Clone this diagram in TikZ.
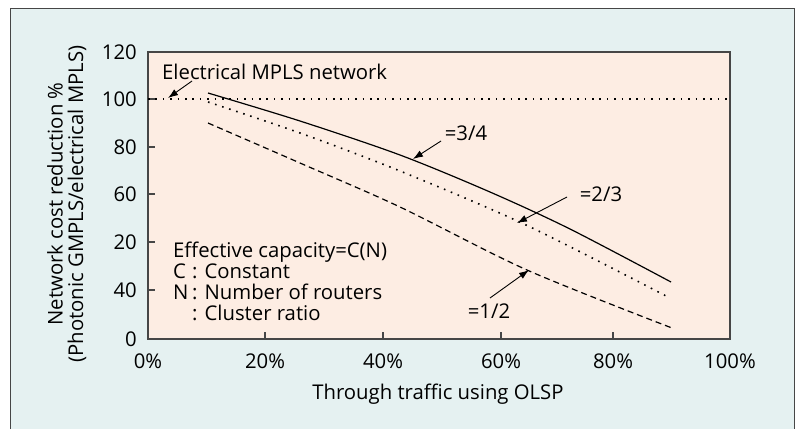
\documentclass[tikz,border=0pt]{standalone}
\usepackage{fontspec}
\setmainfont{Open Sans}
\usetikzlibrary{arrows.meta}
\definecolor{outerbg}{RGB}{229,241,241}
\definecolor{plotbg}{RGB}{253,237,227}
\definecolor{framec}{RGB}{70,70,70}
\begin{document}
\begin{tikzpicture}[x=1pt,y=-1pt,
  font=\fontsize{20.3}{24}\selectfont,
  lbl/.style={inner sep=0pt},
  tiparrow/.style={-{Latex[length=10pt,width=7pt]}, line width=0.9pt},
  curve/.style={line width=1.2pt},
  dotline/.style={line width=1.6pt, dash pattern=on 1.6pt off 5.8pt},
  dashline/.style={line width=1.2pt, dash pattern=on 6pt off 4pt},
  tick/.style={framec, line width=1.2pt}]
\useasboundingbox (0,0) rectangle (797,429);
\fill[white] (0,0) rectangle (797,429);
\fill[outerbg] (10,8) rectangle (794,429);
\draw[framec, line width=1pt] (10,429) -- (10,8) -- (794,8) -- (794,429);
\fill[plotbg] (148,52) rectangle (730,339);
\draw[framec, line width=1.5pt] (148,52) rectangle (730,339);
% y ticks and labels
\foreach \yy/\tx [count=\i] in {52/120,99/100,147/80,194/60,242/20,290/40,339/0}{
  \draw[tick] (148,\yy) -- (155,\yy);
  \node[lbl, anchor=east] (yl\i) at (137,\yy) {\tx};
}
% x ticks and labels
\foreach \xx/\tx [count=\i] in {148/0\%,265/20\%,383/40\%,501/60\%,613/80\%,730/100\%}{
  \draw[tick] (\xx,339) -- (\xx,332);
  \node[lbl] (xl\i) at (\xx,361) {\tx};
}
% axis titles
\node[lbl, rotate=90] (yt1) at (55,204) {Network cost reduction \%};
\node[lbl, rotate=90] (yt2) at (77,204) {(Photonic GMPLS/electrical MPLS)};
\node[lbl] (xt) at (438,394) {Through traffic using OLSP};
% reference line
\draw[dotline] (148,99) -- (728,99);
% curves
\draw[curve] plot[smooth, tension=0.5] coordinates {(208,93) (300,121) (400,155) (490,192) (570,229) (671,282)};
\draw[dotline] plot[smooth, tension=0.5] coordinates {(208,102) (300,133) (400,171) (526,225) (670,298)};
\draw[dashline] plot[smooth, tension=0.5] coordinates {(208,123) (300,163) (400,207) (527,270) (672,328)};
% labels and arrows
\node[lbl, anchor=west] (emn) at (162,72) {Electrical MPLS network};
\coordinate (emA) at (192,81);
\coordinate (emB) at (168,98);
\draw[tiparrow] (emA) -- (emB);
\node[lbl] (a34) at (466,133) {=3/4};
\coordinate (a34A) at (441,141);
\coordinate (a34B) at (413,159);
\draw[tiparrow] (a34A) -- (a34B);
\node[lbl] (a23) at (601,194) {=2/3};
\coordinate (a23A) at (567,197);
\coordinate (a23B) at (517,223);
\draw[tiparrow] (a23A) -- (a23B);
\node[lbl] (a12) at (489,311) {=1/2};
\coordinate (a12A) at (490,298);
\coordinate (a12B) at (529,270);
\draw[tiparrow] (a12A) -- (a12B);
% legend
\node[lbl, anchor=base west] (leg1) at (173,257) {Effective capacity=C(N)};
\node[lbl, anchor=base west] (leg2) at (173,278) {\makebox[19pt][l]{C}: Constant};
\node[lbl, anchor=base west] (leg3) at (173,299) {\makebox[19pt][l]{N}: Number of routers};
\node[lbl, anchor=base west] (leg4) at (173,320) {\makebox[19pt][l]{}: Cluster ratio};
\end{tikzpicture}
\end{document}
